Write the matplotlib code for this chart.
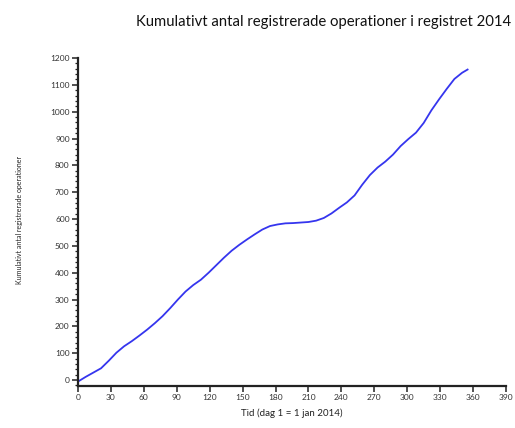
import matplotlib
matplotlib.use("Agg")
import matplotlib.pyplot as plt
from matplotlib.ticker import MultipleLocator

days = [1, 7, 14, 21, 28, 35, 42, 49, 56, 63, 70, 77, 84, 91, 98, 105, 112, 119,
        126, 133, 140, 147, 154, 161, 168, 175, 182, 189, 196, 203, 210, 217, 224,
        231, 238, 245, 252, 259, 266, 273, 280, 287, 294, 301, 308, 315, 322, 329,
        336, 343, 350, 355]
cumulative = [-3, 12, 28, 44, 72, 102, 126, 145, 166, 188, 212, 238, 268, 300, 330,
              354, 374, 400, 428, 456, 482, 504, 524, 543, 561, 574, 580, 584, 585,
              587, 589, 594, 604, 621, 642, 662, 688, 728, 764, 792, 814, 840, 872,
              898, 922, 958, 1005, 1046, 1085, 1122, 1145, 1157]

title = "Kumulativt antal registrerade operationer i registret 2014"
xlabel = "Tid (dag 1 = 1 jan 2014)"
ylabel = "Kumulativt antal registrerade operationer"

plt.rcParams['font.family'] = ['Lato', 'DejaVu Sans']

fig = plt.figure(figsize=(5.15, 4.28), dpi=100)
ax = fig.add_axes([78/515, 42/428, (506-78)/515, (386-58)/428])

ax.plot(days, cumulative, color="#3535ee", linewidth=1.3)

ax.set_xlim(0, 390)
ax.set_ylim(-22, 1200)
ax.xaxis.set_major_locator(MultipleLocator(30))
ax.yaxis.set_major_locator(MultipleLocator(100))
ax.yaxis.set_minor_locator(MultipleLocator(20))

for s in ["top", "right"]:
    ax.spines[s].set_visible(False)
for s in ["left", "bottom"]:
    ax.spines[s].set_linewidth(1.6)
    ax.spines[s].set_color("#222222")

ax.tick_params(axis="both", which="major", labelsize=6, length=4, width=1.2,
               colors="#333333", pad=2)
ax.tick_params(axis="y", which="minor", length=2, width=0.9, colors="#222222")

ax.set_xlabel(xlabel, fontsize=7, color="#222222", labelpad=5)
fig.text(20/515, 1 - 220/428, ylabel, rotation=90, fontsize=5, color="#222222",
         ha="center", va="center")
fig.text(324/515, 1 - 22/428, title, fontsize=10.7, color="#111111",
         ha="center", va="center")

fig.savefig("out.png", dpi=100)
